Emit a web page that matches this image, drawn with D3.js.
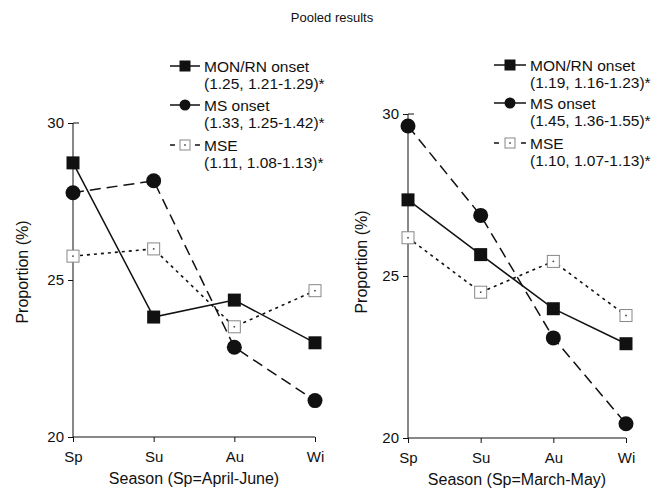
<!DOCTYPE html>
<html>
<head>
<meta charset="utf-8">
<script src="https://cdn.jsdelivr.net/npm/d3@7"></script>
<style>
  body { margin: 0; background: #fff; }
  text { font-family: Arial, "Liberation Sans", sans-serif; fill: #111; }
</style>
</head>
<body>
<script>
var seasons = ["Sp", "Su", "Au", "Wi"];

// left panel (Sp = April-June)
var monLeft = [28.73, 23.82, 24.36, 23.0];
var msLeft  = [27.78, 28.16, 22.86, 21.16];
var mseLeft = [25.76, 25.99, 23.51, 24.66];
var legendLeft = ["(1.25, 1.21-1.29)*", "(1.33, 1.25-1.42)*", "(1.11, 1.08-1.13)*"];

// right panel (Sp = March-May)
var monRight = [27.35, 25.66, 23.99, 22.91];
var msRight  = [29.63, 26.87, 23.09, 20.44];
var mseRight = [26.18, 24.50, 25.45, 23.78];
var legendRight = ["(1.19, 1.16-1.23)*", "(1.45, 1.36-1.55)*", "(1.10, 1.07-1.13)*"];

var seriesNames = ["MON/RN onset", "MS onset", "MSE"];
var yTicks = [20, 25, 30];

var svg = d3.select("body").append("svg")
    .attr("width", 663)
    .attr("height", 489);

svg.append("text")
    .attr("x", 332)
    .attr("y", 22)
    .attr("text-anchor", "middle")
    .style("font-size", "13px")
    .text("Pooled results");

function drawMarker(g, type, x, y) {
    if (type == 0) {
        g.append("rect").attr("x", x - 6.5).attr("y", y - 6.5)
            .attr("width", 13).attr("height", 13).attr("fill", "#111");
    } else if (type == 1) {
        g.append("circle").attr("cx", x).attr("cy", y).attr("r", 7.5).attr("fill", "#111");
    } else {
        g.append("rect").attr("x", x - 6).attr("y", y - 6)
            .attr("width", 12).attr("height", 12)
            .attr("fill", "#fff").attr("stroke", "#888").attr("stroke-width", 1);
        g.append("rect").attr("x", x - 0.75).attr("y", y - 0.75)
            .attr("width", 1.5).attr("height", 1.5).attr("fill", "#333");
    }
}

var dashes = [null, "11,6", "3,4"];

function panel(opts) {
    var x = d3.scalePoint().domain(seasons).range([opts.x0, opts.x1]);
    var y = d3.scaleLinear().domain([20, 30]).range([opts.y0, opts.y1]);

    var g = svg.append("g");

    var yAxis = d3.axisLeft(y).tickValues(yTicks).tickSize(5).tickPadding(4);
    var ya = g.append("g")
        .attr("transform", "translate(" + opts.x0 + ",0)")
        .call(yAxis);
    ya.select(".domain").attr("d", "M0," + opts.y0 + "V" + opts.y1);
    ya.selectAll("text").style("font-size", "15px");
    // small cap on top tick
    g.append("line")
        .attr("x1", opts.x0).attr("x2", opts.x0 + 6)
        .attr("y1", y(30)).attr("y2", y(30))
        .attr("stroke", "#111");

    var xAxis = d3.axisBottom(x).tickSize(5).tickPadding(9);
    var xa = g.append("g")
        .attr("transform", "translate(0," + opts.y0 + ")")
        .call(xAxis);
    xa.select(".domain").attr("d", "M" + opts.x0 + ",0H" + opts.x1);
    xa.selectAll("text").style("font-size", "15px");
    g.selectAll(".domain, .tick line").attr("stroke", "#111");

    g.append("text")
        .attr("transform", "translate(" + opts.labelX + "," + opts.labelY + ") rotate(-90)")
        .attr("text-anchor", "middle")
        .style("font-size", "16px")
        .text("Proportion (%)");

    g.append("text")
        .attr("x", (opts.x0 + opts.x1) / 2)
        .attr("y", opts.y0 + 47)
        .attr("text-anchor", "middle")
        .style("font-size", "16px")
        .text(opts.title);

    var line = d3.line()
        .x(function(d, i) { return x(seasons[i]); })
        .y(function(d) { return y(d); });

    // MSE first (bottom), then MS, then MON/RN on top
    [2, 1, 0].forEach(function(k) {
        g.append("path")
            .datum(opts.data[k])
            .attr("d", line)
            .attr("fill", "none")
            .attr("stroke", "#111")
            .attr("stroke-width", k == 2 ? 1.6 : 1.5)
            .attr("stroke-dasharray", dashes[k]);
    });
    [2, 1, 0].forEach(function(k) {
        opts.data[k].forEach(function(d, i) {
            drawMarker(g, k, x(seasons[i]), y(d));
        });
    });

    // legend
    var lg = svg.append("g");
    var rows = opts.legendY;
    seriesNames.forEach(function(name, k) {
        var ly = rows[k];
        var cx = (opts.lx0 + opts.lx1) / 2;
        if (k == 2) {
            lg.append("line").attr("x1", opts.lx0).attr("x2", opts.lx0 + 5)
                .attr("y1", ly).attr("y2", ly).attr("stroke", "#111").attr("stroke-width", 1.5);
            lg.append("line").attr("x1", opts.lx1 - 5).attr("x2", opts.lx1)
                .attr("y1", ly).attr("y2", ly).attr("stroke", "#111").attr("stroke-width", 1.5);
            lg.append("rect").attr("x", cx - 5).attr("y", ly - 5)
                .attr("width", 10).attr("height", 10)
                .attr("fill", "#fff").attr("stroke", "#888");
            lg.append("rect").attr("x", cx - 0.75).attr("y", ly - 0.75)
                .attr("width", 1.5).attr("height", 1.5).attr("fill", "#333");
        } else {
            lg.append("line").attr("x1", opts.lx0).attr("x2", opts.lx1)
                .attr("y1", ly).attr("y2", ly).attr("stroke", "#111").attr("stroke-width", 1.5);
            if (k == 0) {
                lg.append("rect").attr("x", cx - 5.5).attr("y", ly - 5.5)
                    .attr("width", 11).attr("height", 11).attr("fill", "#111");
            } else {
                lg.append("circle").attr("cx", cx).attr("cy", ly)
                    .attr("r", 5.5).attr("fill", "#111");
            }
        }
        lg.append("text")
            .attr("x", opts.lx1 + 4)
            .attr("y", ly + 5.5)
            .style("font-size", "15.5px")
            .text(name);
        lg.append("text")
            .attr("x", opts.lx1 + 4)
            .attr("y", ly + 22.5)
            .style("font-size", "15.5px")
            .text(opts.legend[k]);
    });
}

panel({
    x0: 73, x1: 315, y0: 437, y1: 123,
    labelX: 28, labelY: 272,
    title: "Season (Sp=April-June)",
    data: [monLeft, msLeft, mseLeft],
    legend: legendLeft,
    lx0: 170, lx1: 200,
    legendY: [66, 105, 145]
});

panel({
    x0: 408, x1: 626, y0: 438, y1: 114,
    labelX: 367, labelY: 262,
    title: "Season (Sp=March-May)",
    data: [monRight, msRight, mseRight],
    legend: legendRight,
    lx0: 494, lx1: 526,
    legendY: [65, 103, 143]
});
</script>
</body>
</html>
